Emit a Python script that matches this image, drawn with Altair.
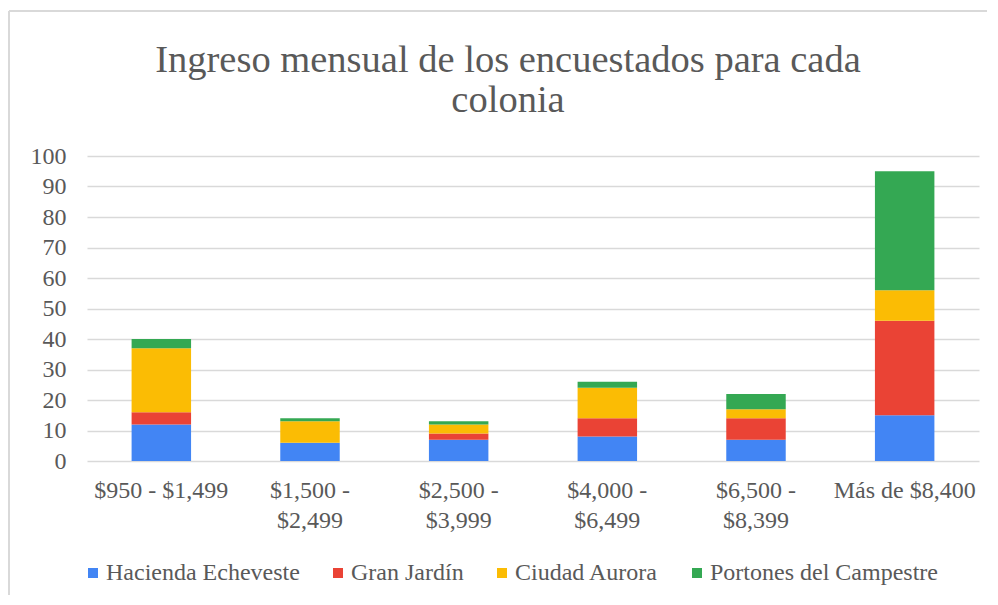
import altair as alt
import pandas as pd

categories = ["$950 - $1,499", "$1,500 - $2,499", "$2,500 - $3,999",
              "$4,000 - $6,499", "$6,500 - $8,399", "Más de $8,400"]
series_names = ["Hacienda Echeveste", "Gran Jardín", "Ciudad Aurora", "Portones del Campestre"]
hacienda = [12, 6, 7, 8, 7, 15]
gran_jardin = [4, 0, 2, 6, 7, 31]
ciudad_aurora = [21, 7, 3, 10, 3, 10]
portones = [3, 1, 1, 2, 5, 39]
colors = ["#4285F4", "#EA4335", "#FBBC04", "#34A853"]
y_ticks = [0, 10, 20, 30, 40, 50, 60, 70, 80, 90, 100]

rows = []
for si, (name, vals) in enumerate(zip(series_names, [hacienda, gran_jardin, ciudad_aurora, portones])):
    for c, v in zip(categories, vals):
        rows.append({"cat": c, "serie": name, "valor": v, "idx": si})
df = pd.DataFrame(rows)

FONT = "Liberation Serif"
GREY = "#595959"

label_expr = ("datum.label == '$950 - $1,499' || datum.label == 'Más de $8,400' ? datum.label : "
              "[split(datum.label, ' - ')[0] + ' -', split(datum.label, ' - ')[1]]")

bars = alt.Chart(df).mark_bar().encode(
    x=alt.X("cat:N", sort=categories,
            scale=alt.Scale(paddingInner=0.6, paddingOuter=0.3),
            axis=alt.Axis(title=None, labelAngle=0, labelExpr=label_expr, labelFont=FONT,
                          labelFontSize=24, labelColor=GREY, labelPadding=17, labelLineHeight=30,
                          domain=False, ticks=False, grid=False, labelLimit=300)),
    y=alt.Y("valor:Q", stack="zero",
            scale=alt.Scale(domain=[0, 100], nice=False),
            axis=alt.Axis(title=None, values=y_ticks, labelFont=FONT, labelFontSize=24,
                          labelColor=GREY, labelPadding=21, domain=False, ticks=False,
                          gridColor="#d9d9d9", gridWidth=1.5)),
    color=alt.Color("serie:N", sort=series_names,
                    scale=alt.Scale(domain=series_names, range=colors),
                    legend=alt.Legend(title=None, orient="none", legendX=-6, legendY=405,
                                      direction="horizontal", columns=4, symbolType="square",
                                      symbolSize=100, symbolStrokeWidth=0, symbolOpacity=1,
                                      labelFont=FONT, labelFontSize=24, labelColor=GREY,
                                      labelOffset=1, columnPadding=26, padding=0,
                                      labelLimit=400)),
    order=alt.Order("idx:Q", sort="ascending"),
)

left_border = alt.Chart(df).mark_rule(color="#d9d9d9", strokeWidth=2).encode(
    x=alt.value(-78), y=alt.value(-145), y2=alt.value(439))
top_border = alt.Chart(df).mark_rule(color="#d9d9d9", strokeWidth=2).encode(
    x=alt.value(-78), x2=alt.value(900), y=alt.value(-145))

chart = alt.layer(bars, left_border, top_border).properties(
    width=892, height=305,
    padding={"left": 0, "top": 2, "right": 0, "bottom": 0},
    title=alt.Title(["Ingreso mensual de los encuestados para cada", "colonia"],
                    font=FONT, fontSize=38.5, fontWeight="normal", color=GREY,
                    lineHeight=40, anchor="middle", dx=-25, dy=150, offset=40),
).configure_view(stroke=None)

chart.save("out.html", embed_options={"renderer": "svg", "actions": False})
